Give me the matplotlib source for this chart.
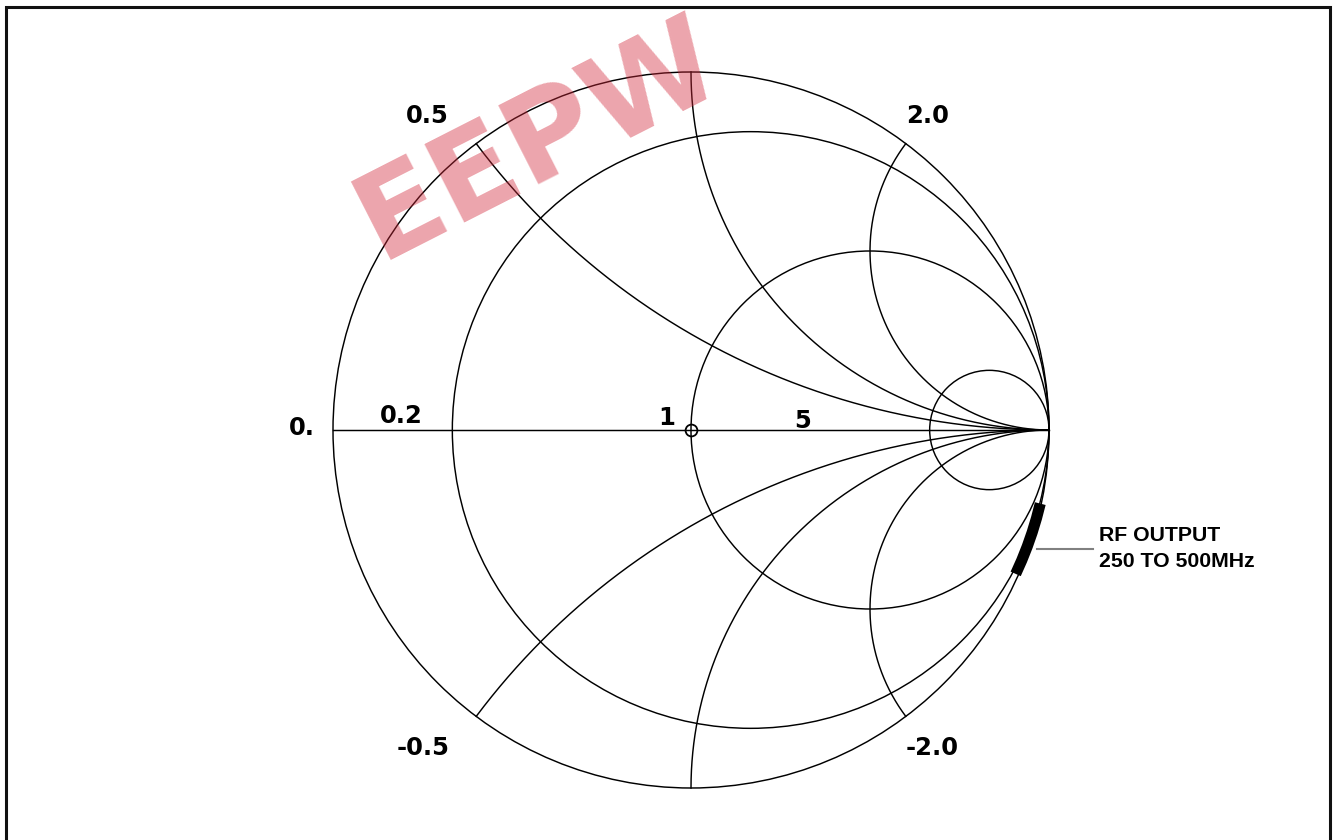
import matplotlib.pyplot as plt
import numpy as np
from matplotlib.patches import Circle, Rectangle

# Smith chart grid values
r_circles = [0.2, 1.0, 5.0]
x_arcs = [0.5, 1.0, 2.0, -0.5, -1.0, -2.0]

# labels on the reactance arcs (at the outer circle)
x_label_vals = [0.5, 2.0, -0.5, -2.0]
x_label_text = ['0.5', '2.0', '-0.5', '-2.0']

# labels along the real axis
r_label_vals = [0.0, 0.2, 1.0, 5.0]
r_label_text = ['0.', '0.2', '1', '5']

# RF output reflection coefficient, 250 to 500 MHz (|G|, angle in deg)
trace_freq = [250, 300, 350, 400, 450, 500]
trace_mag = [0.997, 0.996, 0.995, 0.994, 0.993, 0.992]
trace_ang = [-11.9, -14.3, -16.7, -19.1, -21.5, -23.9]


def gamma(z):
    return (z - 1) / (z + 1)


W, H = 1334, 840
cx, cy, R = 691, 430, 358   # chart centre and radius in pixels
px = 1 / R                  # one pixel in chart units

fig = plt.figure(figsize=(W / 100, H / 100), dpi=100)
ax = fig.add_axes([0, 0, 1, 1])
ax.set_xlim(-cx / R, (W - cx) / R)
ax.set_ylim(-(H - cy) / R, cy / R)
ax.axis('off')

lw = 1.05
# outer circle (r = 0)
ax.add_patch(Circle((0, 0), 1, fill=False, lw=lw, ec='black'))

# constant resistance circles
for r in r_circles:
    ax.add_patch(Circle((r / (1 + r), 0), 1 / (1 + r), fill=False, lw=lw, ec='black'))

# real axis
ax.plot([-1, 1], [0, 0], color='black', lw=lw)

# constant reactance arcs
rr = np.concatenate([[0.0], np.logspace(-3, 4, 1500)])
for x in x_arcs:
    g = gamma(rr + 1j * x)
    ax.plot(g.real, g.imag, color='black', lw=lw)

# centre marker
ax.plot(0, 0, 'o', mfc='none', mec='black', ms=8.5, mew=1.3, zorder=5)

lab_font = dict(family='DejaVu Sans', fontweight='bold', fontsize=17.5, color='black')
pt = 0.72  # points per pixel

for xv, txt in zip(x_label_vals, x_label_text):
    g = gamma(1j * xv)
    dx = -27 if g.real < 0 else 0
    dy = 28 if g.imag > 0 else -32
    ax.annotate(txt, (g.real, g.imag), xytext=(dx * pt, dy * pt), textcoords='offset points',
                ha='right' if g.real < 0 else 'left', va='center', **lab_font)

# real axis labels
r_offsets = [(-18, 2), (-51, 7), (-16, 5), (-127, 2)]
r_ha = ['right', 'center', 'right', 'center']
r_va = ['center', 'baseline', 'baseline', 'baseline']
for rv, txt, (dx, dy), ha, va in zip(r_label_vals, r_label_text, r_offsets, r_ha, r_va):
    g = gamma(rv)
    ax.annotate(txt, (g, 0), xytext=(dx * pt, dy * pt), textcoords='offset points',
                ha=ha, va=va, **lab_font)

# measured trace
ang = np.deg2rad(trace_ang)
tg = np.array(trace_mag) * np.exp(1j * ang)
ax.plot(tg.real, tg.imag, color='black', lw=8.0, solid_capstyle='butt', zorder=4)

# leader line and note
mid = tg[3]
x0, y0 = mid.real + 10 * px, mid.imag - 3 * px
x1 = x0 + 56 * px
ax.plot([x0, x1], [y0, y0], color='#808080', lw=1.5)
note_font = dict(family='Liberation Sans', fontweight='bold', fontsize=15.3, color='black')
ax.text(x1 + 6 * px, y0 + 14 * px, 'RF OUTPUT', ha='left', va='center', **note_font)
ax.text(x1 + 6 * px, y0 - 12.5 * px, '250 TO 500MHz', ha='left', va='center', **note_font)

# frame around the picture
fig.add_artist(Rectangle((5.5 / W, -0.05), (1329.5 - 5.5) / W, (H - 7.5) / H + 0.05,
                         transform=fig.transFigure, fill=False, lw=2.2, ec='#111111'))

# watermark
fig.text(380 / W, 1 - 260 / H, 'EEPW', rotation=27, rotation_mode='anchor',
         fontsize=88, fontweight='heavy', family='DejaVu Sans', color='#d2283a',
         alpha=0.42, ha='left', va='baseline', zorder=10)

fig.savefig('out.png', dpi=100)
